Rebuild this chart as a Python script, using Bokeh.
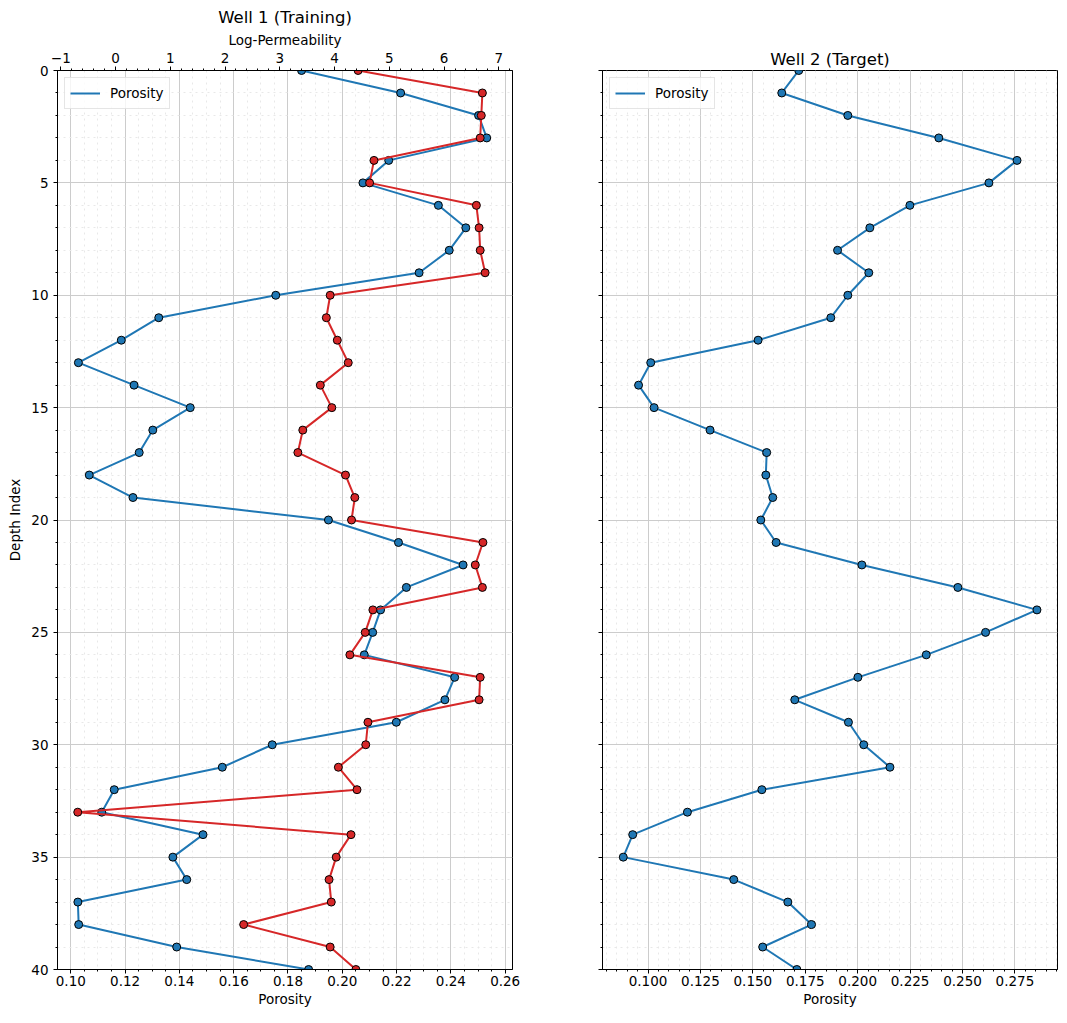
from bokeh.plotting import figure
from bokeh.models import Range1d, LinearAxis, FixedTicker, Legend, LegendItem
from bokeh.layouts import row
from bokeh.embed import file_html
from bokeh.resources import INLINE

# ---------------- data ----------------
depth = list(range(41))

well1_porosity = [0.1850, 0.2215, 0.2502, 0.2532, 0.2171, 0.2076, 0.2354, 0.2455, 0.2394, 0.2283,
                  0.1755, 0.1324, 0.1186, 0.1028, 0.1233, 0.1440, 0.1302, 0.1252, 0.1068, 0.1229,
                  0.1949, 0.2207, 0.2445, 0.2236, 0.2141, 0.2112, 0.2081, 0.2414, 0.2378, 0.2199,
                  0.1742, 0.1558, 0.1160, 0.1114, 0.1487, 0.1376, 0.1427, 0.1026, 0.1029, 0.1390,
                  0.1876]

well1_logperm = [4.43, 6.70, 6.68, 6.66, 4.72, 4.64, 6.59, 6.64, 6.66, 6.75,
                 3.92, 3.85, 4.05, 4.25, 3.74, 3.95, 3.42, 3.33, 4.20, 4.37,
                 4.31, 6.71, 6.57, 6.70, 4.70, 4.56, 4.28, 6.66, 6.64, 4.61,
                 4.57, 4.07, 4.41, -0.69, 4.30, 4.03, 3.90, 3.94, 2.34, 3.92,
                 4.39]

well2_porosity = [0.1719, 0.1638, 0.1953, 0.2387, 0.2760, 0.2626, 0.2249, 0.2058, 0.1904, 0.2053,
                  0.1953, 0.1872, 0.1525, 0.1013, 0.0955, 0.1029, 0.1296, 0.1566, 0.1562, 0.1595,
                  0.1538, 0.1611, 0.2020, 0.2478, 0.2855, 0.2610, 0.2327, 0.2001, 0.1700, 0.1956,
                  0.2029, 0.2154, 0.1543, 0.1188, 0.0927, 0.0882, 0.1409, 0.1667, 0.1780, 0.1547,
                  0.1710]

por1_ticks = [0.10, 0.12, 0.14, 0.16, 0.18, 0.20, 0.22, 0.24, 0.26]
perm_ticks = [-1, 0, 1, 2, 3, 4, 5, 6, 7]
por2_ticks = [0.100, 0.125, 0.150, 0.175, 0.200, 0.225, 0.250, 0.275]
depth_ticks = [0, 5, 10, 15, 20, 25, 30, 35, 40]

BLUE = "#1f77b4"
RED = "#d62728"
FONT = "DejaVu Sans"
TICK_FS = "13.5px"
LABEL_FS = "13.5px"
TITLE_FS = "16.5px"


def minor_list(lo, hi, step):
    out = []
    v = lo
    while v <= hi + 1e-9:
        out.append(round(v, 6))
        v += step
    return out


def style_axis(ax):
    ax.major_label_text_font = FONT
    ax.major_label_text_font_size = TICK_FS
    ax.major_label_text_color = "black"
    ax.axis_label_text_font = FONT
    ax.axis_label_text_font_size = LABEL_FS
    ax.axis_label_text_font_style = "normal"
    ax.axis_label_text_color = "black"
    ax.axis_line_color = "black"
    ax.major_tick_line_color = "black"
    ax.minor_tick_line_color = "black"
    ax.major_tick_in = 0
    ax.major_tick_out = 4
    ax.minor_tick_in = 0
    ax.minor_tick_out = 2
    ax.axis_label_standoff = 2
    ax.major_label_standoff = 2


def style_grid(p):
    for g in p.grid:
        g.grid_line_color = "#cccccc"
        g.grid_line_width = 1
        g.minor_grid_line_color = "#e8e8e8"
        g.minor_grid_line_dash = "dotted"
        g.minor_grid_line_width = 1


def style_title(p, text):
    p.title.text = text
    p.title.align = "center"
    p.title.text_font = FONT
    p.title.text_font_size = TITLE_FS
    p.title.text_font_style = "normal"
    p.title.text_color = "black"
    p.title.standoff = 4


y_range = Range1d(40, 0)

# ---------------- Well 1 ----------------
p1 = figure(width=557, height=1023, x_range=Range1d(0.0951, 0.2627), y_range=y_range,
            output_backend="svg", toolbar_location=None,
            min_border_left=57, min_border_right=45, min_border_top=70, min_border_bottom=54)
style_title(p1, "Well 1 (Training)")
p1.outline_line_color = "black"
p1.outline_line_alpha = 1

p1.xaxis.ticker = FixedTicker(ticks=por1_ticks, minor_ticks=minor_list(0.095, 0.265, 0.005))
p1.xaxis.major_label_overrides = {t: f"{t:.2f}" for t in por1_ticks}
p1.xaxis.axis_label = "Porosity"
p1.yaxis.ticker = FixedTicker(ticks=depth_ticks, minor_ticks=list(range(41)))
p1.yaxis.axis_label = "Depth Index"
style_axis(p1.xaxis[0])
style_axis(p1.yaxis[0])
p1.yaxis.major_label_standoff = 5
p1.yaxis.axis_label_standoff = 5
style_grid(p1)

p1.extra_x_ranges = {"perm": Range1d(-1.06, 7.25)}
top_ax = LinearAxis(x_range_name="perm", axis_label="Log-Permeability",
                    ticker=FixedTicker(ticks=perm_ticks, minor_ticks=minor_list(-1.0, 7.2, 0.2)))
top_ax.major_label_overrides = {t: (("\u2212" + str(abs(t))) if t < 0 else str(t)) for t in perm_ticks}
style_axis(top_ax)
top_ax.major_label_standoff = 4
p1.add_layout(top_ax, "above")

l1 = p1.line(well1_porosity, depth, line_color=BLUE, line_width=2)
p1.scatter(well1_porosity, depth, size=8, fill_color=BLUE, line_color="black", line_width=1)
p1.line(well1_logperm, depth, line_color=RED, line_width=2, x_range_name="perm")
p1.scatter(well1_logperm, depth, size=8, fill_color=RED, line_color="black", line_width=1,
           x_range_name="perm")

leg1 = Legend(items=[LegendItem(label="Porosity", renderers=[l1])], location="top_left")
p1.add_layout(leg1)

# ---------------- Well 2 ----------------
p2 = figure(width=510, height=1023, x_range=Range1d(0.0783, 0.2953), y_range=y_range,
            output_backend="svg", toolbar_location=None,
            min_border_left=45, min_border_right=10, min_border_top=70, min_border_bottom=54)
style_title(p2, "Well 2 (Target)")
p2.outline_line_color = "black"
p2.outline_line_alpha = 1

p2.xaxis.ticker = FixedTicker(ticks=por2_ticks, minor_ticks=minor_list(0.080, 0.295, 0.005))
p2.xaxis.major_label_overrides = {t: f"{t:.3f}" for t in por2_ticks}
p2.xaxis.axis_label = "Porosity"
p2.yaxis.ticker = FixedTicker(ticks=depth_ticks, minor_ticks=list(range(41)))
style_axis(p2.xaxis[0])
style_axis(p2.yaxis[0])
# shared depth axis: ticks only, no labels
p2.yaxis.major_label_overrides = {t: "" for t in depth_ticks}
style_grid(p2)

l2 = p2.line(well2_porosity, depth, line_color=BLUE, line_width=2)
p2.scatter(well2_porosity, depth, size=8, fill_color=BLUE, line_color="black", line_width=1)

leg2 = Legend(items=[LegendItem(label="Porosity", renderers=[l2])], location="top_left")
p2.add_layout(leg2)

for lg in (leg1, leg2):
    lg.label_text_font = FONT
    lg.label_text_font_size = "13.5px"
    lg.label_text_color = "black"
    lg.border_line_color = "#cccccc"
    lg.border_line_width = 1
    lg.background_fill_alpha = 0.8
    lg.margin = 7
    lg.padding = 5
    lg.spacing = 2
    lg.glyph_width = 30
    lg.label_standoff = 10

layout = row(p1, p2)

open("out.html", "w").write(file_html(layout, INLINE))
